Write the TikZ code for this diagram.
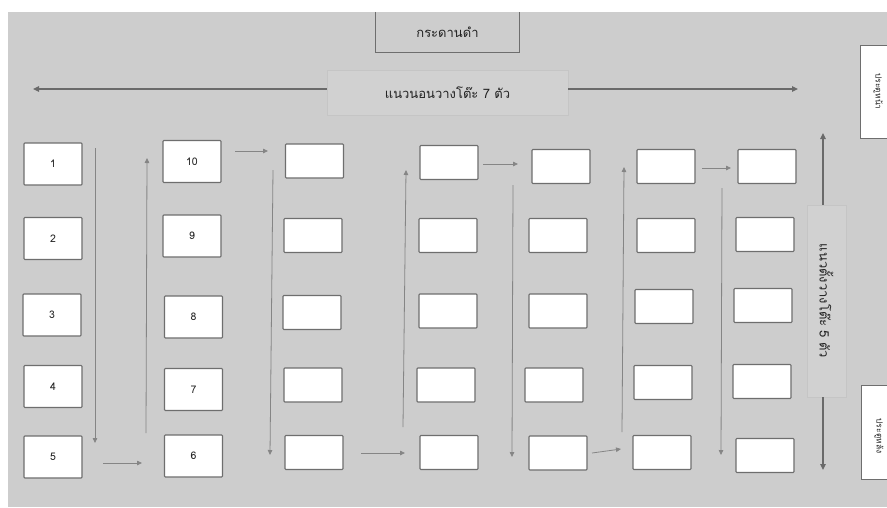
\documentclass[tikz,border=0pt]{standalone}
\usepackage{fontspec}
\setmainfont[Script=Thai]{Loma}
\usetikzlibrary{arrows.meta}
\definecolor{bggray}{HTML}{CDCDCD}
\definecolor{deskline}{HTML}{6E6E6E}
\definecolor{arrgray}{HTML}{858585}
\definecolor{bigarr}{HTML}{6A6A6A}
\definecolor{lblfill}{HTML}{D1D1D1}
\definecolor{lblline}{HTML}{C5C5C5}
\definecolor{txt}{HTML}{222222}
\tikzset{
  desk/.style={draw=deskline, fill=white, line width=1.1pt, rectangle, rounded corners=0.8pt,
    inner sep=0pt, minimum width=58pt, minimum height=34pt, font=\fontsize{10.5}{12}\selectfont, text=txt},
  numdesk/.style={desk, minimum height=42pt},
  lblbox/.style={draw=lblline, fill=lblfill, line width=0.6pt, inner sep=0pt, text=txt,
    font=\fontsize{13}{14}\selectfont},
  door/.style={draw=deskline, fill=white, line width=1pt, inner sep=0pt, text=txt,
    font=\fontsize{8.5}{9}\selectfont},
  flow/.style={draw=arrgray, line width=0.8pt, -{Triangle[width=4.5pt,length=5pt]}},
  big/.style={draw=bigarr, line width=1.4pt, -{Triangle[width=5.5pt,length=6pt]}},
}
\begin{document}
\begin{tikzpicture}[x=1pt,y=-1pt]
\useasboundingbox (0,0) rectangle (887,507);
\fill[white] (0,0) rectangle (887,507);
\fill[bggray] (8,12) rectangle (887,507);

% blackboard
\node[inner sep=0pt, minimum width=143pt, minimum height=40pt, text=txt,
  font=\fontsize{13}{14}\selectfont] (board) at (447.5,32) {กระดานดำ};
\draw[deskline, line width=1pt] (board.north west) -- (board.south west) -- (board.south east) -- (board.north east);

% horizontal label
\node[lblbox, minimum width=241pt, minimum height=45pt] (hlab) at (447.5,92.5) {แนวนอนวางโต๊ะ 7 ตัว};
\coordinate (hl) at (33,89);
\coordinate (hr) at (798,89);
\draw[big] (hlab.west |- hl) -- (hl);
\draw[big] (hlab.east |- hr) -- (hr);

% vertical label
\node[lblbox, minimum width=39pt, minimum height=192pt] (vlab) at (826.5,301) {};
\node[rotate=-90, text=txt, font=\fontsize{13}{14}\selectfont] (vtext) at (vlab.center) {แนวตั้งวางโต๊ะ 5 ตัว};
\coordinate (vt) at (823,133);
\coordinate (vb) at (823,470);
\draw[big] (vt |- vlab.north) -- (vt);
\draw[big] (vb |- vlab.south) -- (vb);

% doors
\node[door, minimum width=36pt, minimum height=93pt] (front) at (878,91.5) {};
\node[rotate=-90, text=txt, font=\fontsize{8.5}{9}\selectfont] (fronttext) at (front.center) {ประตูหน้า};
\node[door, minimum width=36pt, minimum height=94pt] (back) at (879,432) {};
\node[rotate=-90, text=txt, font=\fontsize{8.5}{9}\selectfont] (backtext) at (879,436) {ประตูหลัง};

% column 1
\node[numdesk] (d11) at (53,164) {1};
\node[numdesk] (d12) at (53,238.5) {2};
\node[numdesk] (d13) at (52,315) {3};
\node[numdesk] (d14) at (53,386.5) {4};
\node[numdesk] (d15) at (53,457) {5};
% column 2
\node[numdesk] (d21) at (192,161.5) {10};
\node[numdesk] (d22) at (192,236) {9};
\node[numdesk] (d23) at (193.5,317) {8};
\node[numdesk] (d24) at (193.5,389.5) {7};
\node[numdesk] (d25) at (193.5,456) {6};
% column 3
\node[desk] (d31) at (314.5,161) {};
\node[desk] (d32) at (313,235.5) {};
\node[desk] (d33) at (312,312.5) {};
\node[desk] (d34) at (313,385) {};
\node[desk] (d35) at (314,452.5) {};
% column 4
\node[desk] (d41) at (449,162.5) {};
\node[desk] (d42) at (448,235.5) {};
\node[desk] (d43) at (448,311) {};
\node[desk] (d44) at (446,385) {};
\node[desk] (d45) at (449,452.5) {};
% column 5
\node[desk] (d51) at (561,166.5) {};
\node[desk] (d52) at (558,235.5) {};
\node[desk] (d53) at (558,311) {};
\node[desk] (d54) at (554,385) {};
\node[desk] (d55) at (558,453) {};
% column 6
\node[desk] (d61) at (666,166.5) {};
\node[desk] (d62) at (666,235.5) {};
\node[desk] (d63) at (664,306.5) {};
\node[desk] (d64) at (663,382.5) {};
\node[desk] (d65) at (662,452.5) {};
% column 7
\node[desk] (d71) at (767,166.5) {};
\node[desk] (d72) at (765,234.5) {};
\node[desk] (d73) at (763,305.5) {};
\node[desk] (d74) at (762,381.5) {};
\node[desk] (d75) at (765,455.5) {};

% flow arrows
\coordinate (a1s) at (95,148);   \coordinate (a1e) at (95,443);
\coordinate (a2s) at (103,463);  \coordinate (a2e) at (142,463);
\coordinate (a3s) at (146,433);  \coordinate (a3e) at (147,158);
\coordinate (a4s) at (235,151);  \coordinate (a4e) at (268,151);
\coordinate (a5s) at (273,170);  \coordinate (a5e) at (270,455);
\coordinate (a6s) at (361,453);  \coordinate (a6e) at (405,453);
\coordinate (a7s) at (403,427);  \coordinate (a7e) at (406,170);
\coordinate (a8s) at (483,164);  \coordinate (a8e) at (518,164);
\coordinate (a9s) at (513,185);  \coordinate (a9e) at (512,457);
\coordinate (a10s) at (592,453); \coordinate (a10e) at (621,449);
\coordinate (a11s) at (622,432); \coordinate (a11e) at (624,167);
\coordinate (a12s) at (702,168); \coordinate (a12e) at (731,168);
\coordinate (a13s) at (722,188); \coordinate (a13e) at (721,455);
\foreach \i in {1,...,13} {\draw[flow] (a\i s) -- (a\i e);}
\end{tikzpicture}
\end{document}
